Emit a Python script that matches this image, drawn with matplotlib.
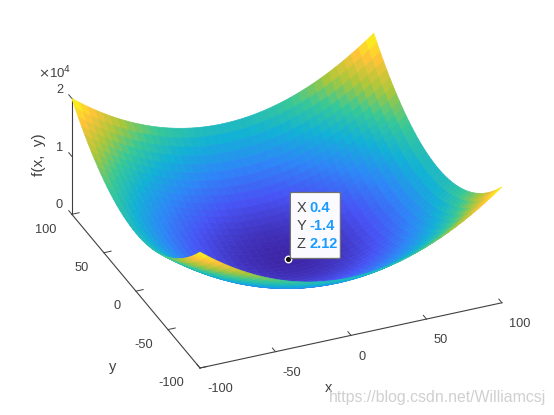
import numpy as np
import matplotlib
matplotlib.use('Agg')
import matplotlib.pyplot as plt
from matplotlib.colors import LinearSegmentedColormap
from matplotlib.patches import FancyBboxPatch
from matplotlib.text import Text
from mpl_toolkits.mplot3d import proj3d

plt.rcParams['font.family'] = ['Liberation Sans', 'DejaVu Sans']
plt.rcParams['axes.unicode_minus'] = False

# z values on a 5-unit grid, one quadrant (|y| rows, |x| columns);
# the bowl is symmetric so the other quadrants mirror it.
grid_abs = [0,5,10,15,20,25,30,35,40,45,50,55,60,65,70,75,80,85,90,95,100]
z_quadrant = [
[2,25,100,225,400,625,900,1225,1600,2025,2500,3025,3600,4225,4900,5625,6400,7225,8100,9025,10000],
[25,50,125,250,425,650,925,1250,1625,2050,2525,3050,3625,4250,4925,5650,6425,7250,8125,9050,10025],
[100,125,200,325,500,725,1000,1325,1700,2125,2600,3125,3700,4325,5000,5725,6500,7325,8200,9125,10100],
[225,250,325,450,625,850,1125,1450,1825,2250,2725,3250,3825,4450,5125,5850,6625,7450,8325,9250,10225],
[400,425,500,625,800,1025,1300,1625,2000,2425,2900,3425,4000,4625,5300,6025,6800,7625,8500,9425,10400],
[625,650,725,850,1025,1250,1525,1850,2225,2650,3125,3650,4225,4850,5525,6250,7025,7850,8725,9650,10625],
[900,925,1000,1125,1300,1525,1800,2125,2500,2925,3400,3925,4500,5125,5800,6525,7300,8125,9000,9925,10900],
[1225,1250,1325,1450,1625,1850,2125,2450,2825,3250,3725,4250,4825,5450,6125,6850,7625,8450,9325,10250,11225],
[1600,1625,1700,1825,2000,2225,2500,2825,3200,3625,4100,4625,5200,5825,6500,7225,8000,8825,9700,10625,11600],
[2025,2050,2125,2250,2425,2650,2925,3250,3625,4050,4525,5050,5625,6250,6925,7650,8425,9250,10125,11050,12025],
[2500,2525,2600,2725,2900,3125,3400,3725,4100,4525,5000,5525,6100,6725,7400,8125,8900,9725,10600,11525,12500],
[3025,3050,3125,3250,3425,3650,3925,4250,4625,5050,5525,6050,6625,7250,7925,8650,9425,10250,11125,12050,13025],
[3600,3625,3700,3825,4000,4225,4500,4825,5200,5625,6100,6625,7200,7825,8500,9225,10000,10825,11700,12625,13600],
[4225,4250,4325,4450,4625,4850,5125,5450,5825,6250,6725,7250,7825,8450,9125,9850,10625,11450,12325,13250,14225],
[4900,4925,5000,5125,5300,5525,5800,6125,6500,6925,7400,7925,8500,9125,9800,10525,11300,12125,13000,13925,14900],
[5625,5650,5725,5850,6025,6250,6525,6850,7225,7650,8125,8650,9225,9850,10525,11250,12025,12850,13725,14650,15625],
[6400,6425,6500,6625,6800,7025,7300,7625,8000,8425,8900,9425,10000,10625,11300,12025,12800,13625,14500,15425,16400],
[7225,7250,7325,7450,7625,7850,8125,8450,8825,9250,9725,10250,10825,11450,12125,12850,13625,14450,15325,16250,17225],
[8100,8125,8200,8325,8500,8725,9000,9325,9700,10125,10600,11125,11700,12325,13000,13725,14500,15325,16200,17125,18100],
[9025,9050,9125,9250,9425,9650,9925,10250,10625,11050,11525,12050,12625,13250,13925,14650,15425,16250,17125,18050,19025],
[10000,10025,10100,10225,10400,10625,10900,11225,11600,12025,12500,13025,13600,14225,14900,15625,16400,17225,18100,19025,20000],
]
x_ticks = [-100,-50,0,50,100]
y_ticks = [-100,-50,0,50,100]
z_ticks = [0,10000,20000]
x_ticklabels = ['-100','-50','0','50','100']
y_ticklabels = ['-100','-50','0','50','100']
z_ticklabels = ['0','1','2']
tip_x, tip_y, tip_z = 0.4, -1.4, 2.12

parula = LinearSegmentedColormap.from_list('parula', [
    (.2422,.1504,.6603),(.2810,.3228,.9579),(.1786,.5289,.9682),(.0689,.6948,.8394),
    (.2161,.7843,.5923),(.6720,.7793,.2227),(.9970,.7659,.2199),(.9769,.9839,.0805)])

W, H = 554, 415
fig = plt.figure(figsize=(W/100, H/100), dpi=100)
ax = fig.add_axes([0.1,0.1,0.7,0.7*W/H], projection='3d', proj_type='ortho', computed_zorder=False)
ax.patch.set_alpha(0)

g = np.array(grid_abs, float)
axis = np.concatenate([-g[:0:-1], g])
q = np.array(z_quadrant, float)
top = np.hstack([q[:,:0:-1], q])
Z = np.vstack([top[:0:-1], top])
X, Y = np.meshgrid(axis, axis)

surf = ax.plot_surface(X, Y, Z, cmap=parula, vmin=0, vmax=20000, rstride=1, cstride=1,
                linewidth=0.5, antialiased=True, shade=False, zorder=1)
surf.set_edgecolor('face')
ax.set_xlim(-100,100); ax.set_ylim(-100,100); ax.set_zlim(0,20000)
ax.set_xticks(x_ticks); ax.set_yticks(y_ticks); ax.set_zticks(z_ticks)
ax.set_xticklabels(x_ticklabels, ha='left')
ax.set_yticklabels(y_ticklabels, ha='right')
ax.set_zticklabels(z_ticklabels, ha='center', va='top')
ax.view_init(elev=30.6, azim=-113)
ax.set_box_aspect((328,328,134.6))
ax.grid(False)
grey = '#404040'
for a, pad in ((ax.xaxis,2),(ax.yaxis,1),(ax.zaxis,9)):
    a.set_pane_color((1,1,1,0))
    a.line.set_color(grey); a.line.set_linewidth(0.8)
    a.set_tick_params(colors=grey, labelsize=9.2, width=0.6, pad=pad)
    a._axinfo['tick']['inward_factor'] = 0.0
    a._axinfo['tick']['outward_factor'] = 0.3
    a._axinfo['tick']['linewidth'] = {True:0.7, False:0.5}
ax.zaxis.set_ticks_position('upper')
ax.zaxis._get_tickdir = lambda position: 1   # z ticks run along the y direction
ax.zaxis._axmask = lambda: [False, True, False]   # z tick labels step off along y only
ax.set_xlabel('x', color=grey, fontsize=10.5)
ax.set_ylabel('y', color=grey, fontsize=10.5)
ax.set_zlabel('f(x,  y)', color=grey, fontsize=11)
ax.xaxis.set_rotate_label(False); ax.yaxis.set_rotate_label(False); ax.zaxis.set_rotate_label(False)

# calibrate the axes rectangle so the box corners land where they are in the reference
def disp(x,y,z):
    fig.canvas.draw()
    px,py,_ = proj3d.proj_transform(x,y,z,ax.get_proj())
    return ax.transData.transform((px,py))
f = disp(-100,-100,0); r = disp(100,-100,0)
size = ax.get_position().width*W
target_f = np.array([200, H-368]); target_r = np.array([502, H-303])
S = size*(np.linalg.norm(target_r-target_f)/np.linalg.norm(r-f))
ax.set_position([0,0,S/W,S/H])
f = disp(-100,-100,0)
l0 = ax.get_position()
ax.set_position([l0.x0+(target_f[0]-f[0])/W, l0.y0+(target_f[1]-f[1])/H, S/W, S/H])
tx,ty = disp(tip_x,tip_y,tip_z)

# pin axis labels at their reference places (draw overrides the transform with transData)
inv = ax.transData.inverted()
for lab, lx, ly, rot in ((ax.xaxis.label,329,388,0),(ax.yaxis.label,113,367,0),(ax.zaxis.label,39,155,90)):
    Text.set_position(lab, tuple(inv.transform((lx, H-ly))))
    lab.set_rotation(rot)
    lab.set_position = lambda *a, **k: None

# data tip
ax.scatter([tip_x],[tip_y],[tip_z], s=22, c='#111111', edgecolors='white', linewidths=1.0,
           depthshade=False, zorder=10)
px = lambda v: v/W
py = lambda v: v/H
box = FancyBboxPatch((tx+2,ty+1), 50, 66, boxstyle='round,pad=0,rounding_size=1.5',
                     fc='#fbfbff', ec='#707070', lw=0.9, transform=None, zorder=20)
fig.add_artist(box)
blue = '#1a9bff'
for i,(k,v) in enumerate(zip(['X','Y','Z'],['0.4','-1.4','2.12'])):
    yy = ty + 51 - i*18
    fig.text(px(tx+8), py(yy), k, fontsize=10.5, color='#404040', va='center', zorder=21)
    fig.text(px(tx+21), py(yy), v, fontsize=10.5, color=blue, va='center', fontweight='bold', zorder=21)

# scale factor and watermark
fig.text(38/W, 1-73/H, r'$\times$10$^{4}$', fontsize=9.5, color=grey, va='center')
fig.text(546/W, 1-397/H, 'https://blog.csdn.net/Williamcsj', fontsize=11.4, color='#d0d0d0',
         ha='right', va='center', zorder=30)
fig.savefig('out.png', dpi=100)
